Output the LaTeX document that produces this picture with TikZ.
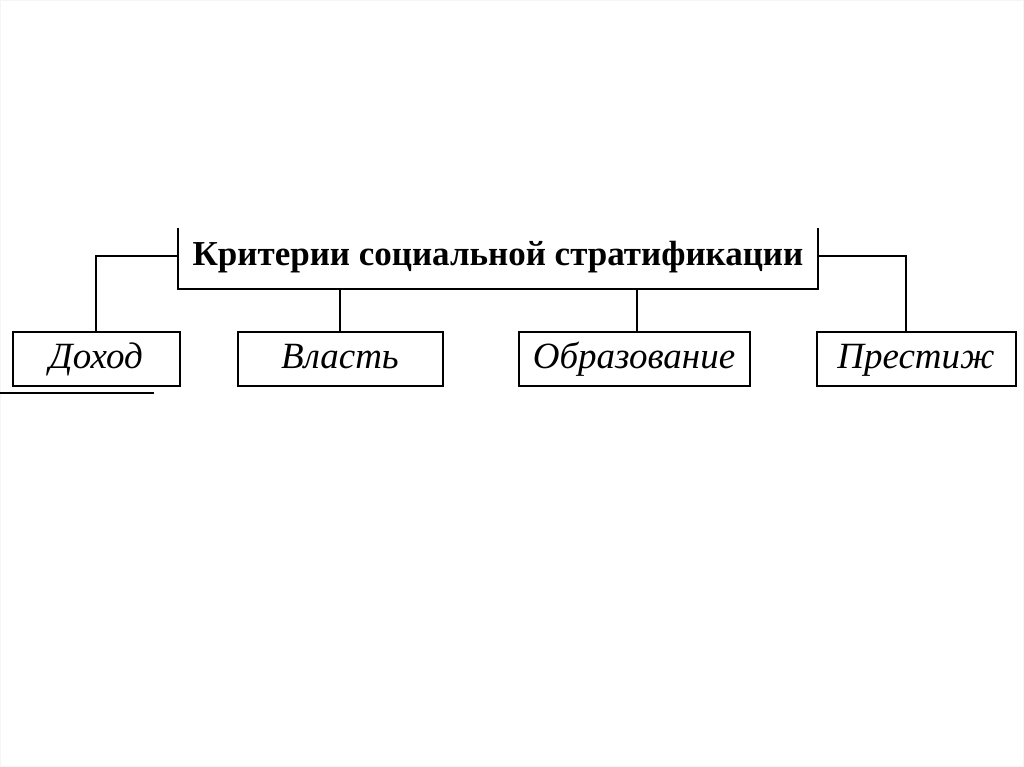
\documentclass[tikz,border=0pt]{standalone}
\usepackage{fontspec}
\setmainfont{Liberation Serif}
\begin{document}
\begin{tikzpicture}[x=1pt,y=-1pt,
  line width=2pt,
  leaf/.style={draw, rectangle, minimum height=54pt, inner sep=0pt,
    text height=25.9pt, text depth=6.9pt, font=\fontsize{37}{40}\selectfont\itshape},
  wire/.style={line width=2pt}]
\useasboundingbox (0,0) rectangle (1024,767);
\draw[line width=1pt, black!4] (0.5,0.5) rectangle (1023.5,766.5);
\node[rectangle, minimum width=638pt, minimum height=59pt, inner sep=0pt,
      text height=24.5pt, text depth=10.5pt,
      font=\fontsize{35}{38}\selectfont\bfseries] (top) at (498,258.5)
      {Критерии социальной стратификации};
\draw[wire] (top.north west) -- (top.south west) -- (top.south east) -- (top.north east);
\node[leaf, minimum width=167pt] (d) at (96,359) {Доход};
\node[leaf, minimum width=205pt] (v) at (340,359) {Власть};
\node[leaf, minimum width=231pt] (o) at (634,359) {Образование};
\node[leaf, minimum width=199pt] (p) at (916,359) {Престиж};
\draw[wire] ([yshift=2.5pt]top.west) -| (d.north);
\draw[wire] ([yshift=2.5pt]top.east) -| ([xshift=-10pt]p.north);
\draw[wire] (v.north) -- (v.north |- top.south);
\draw[wire] ([xshift=3pt]o.north) -- ([xshift=3pt]o.north |- top.south);
\coordinate (u1) at (0,393);
\coordinate (u2) at (154,393);
\draw[wire] (u1) -- (u2);
\end{tikzpicture}
\end{document}
